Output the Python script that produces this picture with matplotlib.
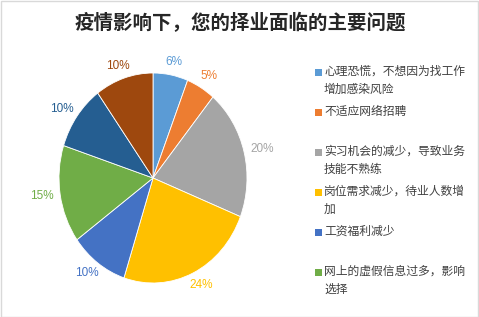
import matplotlib
matplotlib.use("Agg")
import numpy as np
import matplotlib.pyplot as plt
from matplotlib.patches import Rectangle

plt.rcParams['font.family'] = ['Noto Sans CJK SC', 'DejaVu Sans']

title = "疫情影响下，您的择业面临的主要问题"
values = [6, 5, 20, 24, 10, 15, 10, 10]
pct_labels = ["6%", "5%", "20%", "24%", "10%", "15%", "10%", "10%"]
colors = ["#5B9BD5", "#ED7D31", "#A5A5A5", "#FFC000", "#4472C4", "#70AD47", "#255E91", "#9E480E"]
legend_labels = [
    "心理恐慌，不想因为找工作\n增加感染风险",
    "不适应网络招聘",
    "实习机会的减少，导致业务\n技能不熟练",
    "岗位需求减少，待业人数增\n加",
    "工资福利减少",
    "网上的虚假信息过多，影响\n选择",
]

W, H = 479, 317
fig = plt.figure(figsize=(W / 100, H / 100), dpi=100)
fig.patch.set_facecolor("white")

# frame
fig.add_artist(Rectangle((0.5 / W, 0.5 / H), 1 - 1.5 / W, 1 - 1.5 / H, transform=fig.transFigure,
                         fill=False, edgecolor="#D9D9D9", linewidth=1))

fig.text(240 / W, 1 - 23 / H, title, ha="center", va="center", fontsize=14,
         fontweight="bold", color="#262626")

cx, cy, rx, ry = 153, 178, 94, 105
lim = 1.3
axw, axh = 2 * lim * rx, 2 * lim * ry
ax = fig.add_axes([(cx - axw / 2) / W, (H - cy - axh / 2) / H, axw / W, axh / H])
wedges, _ = ax.pie(values, colors=colors, startangle=90, counterclock=False,
                   wedgeprops=dict(edgecolor="white", linewidth=0.6))
ax.set_aspect("auto")
ax.set_xlim(-lim, lim)
ax.set_ylim(-lim, lim)
ax.axis("off")

# data labels placed outside the ellipse with a pixel gap
gap = 8
for w, lab, c in zip(wedges, pct_labels, colors):
    th = np.deg2rad((w.theta1 + w.theta2) / 2)
    tw = 7 * len(lab)
    th_ = 10
    dx = (rx + gap) * np.cos(th) + tw / 2 * np.cos(th)
    dy = (ry + gap) * np.sin(th) + th_ / 2 * np.sin(th)
    ax.text(dx / rx, dy / ry, lab, ha="center", va="center", color=c, fontsize=8.5,
            family=["Liberation Sans", "DejaVu Sans"])

# legend (manual)
top = 72
slot = 40
for i, lab in enumerate(legend_labels):
    y = top + i * slot
    fig.add_artist(Rectangle((315 / W, 1 - (y + 3.5) / H), 7 / W, 7 / H,
                             transform=fig.transFigure, facecolor=colors[i], edgecolor="none"))
    fig.text(324 / W, 1 - (y - 7) / H, lab, ha="left", va="top", fontsize=8.5,
             color="#404040", linespacing=1.45)

fig.savefig("out.png", dpi=100)
